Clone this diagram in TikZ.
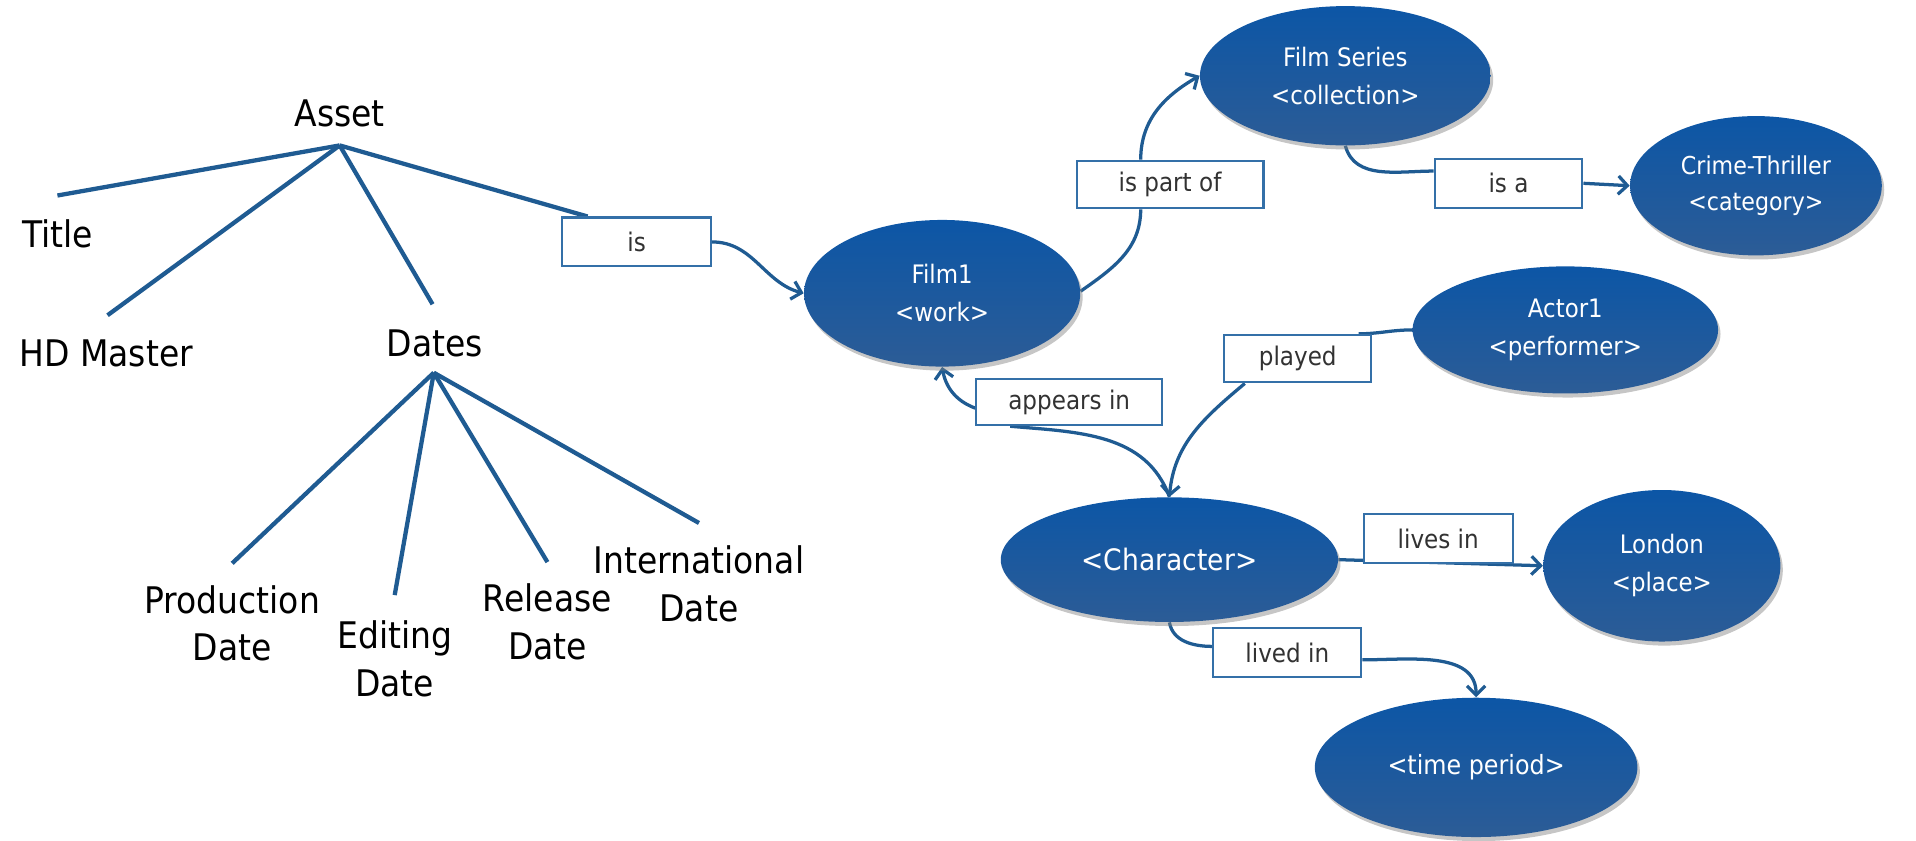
\documentclass[tikz,border=0pt]{standalone}
\usepackage{fontspec}
\setmainfont{DejaVu Sans}[FakeStretch=0.9]
\usetikzlibrary{arrows.meta,shapes.geometric,shadows}
\definecolor{linecol}{RGB}{31,91,146}
\definecolor{boxcol}{RGB}{52,112,168}
\definecolor{ellTop}{RGB}{12,86,166}
\definecolor{ellBot}{RGB}{44,92,150}
\definecolor{labtext}{RGB}{50,50,50}
\pgfdeclarelayer{bg}
\pgfsetlayers{bg,main}
\begin{document}
\begin{tikzpicture}[x=0.6pt,y=-0.6pt,
 treetext/.style={font=\fontsize{18}{23.4}\selectfont, align=center, inner sep=0pt, text=black},
 treeline/.style={draw=linecol, line width=2.1pt},
 ell/.style={ellipse, top color=ellTop, bottom color=ellBot, draw=none, text=white, align=center, inner sep=0pt, font=\fontsize{12.5}{18.5}\selectfont, drop shadow={shadow xshift=1.2pt,shadow yshift=-2pt,opacity=0.45}},
 lab/.style={rectangle, draw=boxcol, line width=1pt, fill=white, text=labtext, font=\fontsize{12.6}{15}\selectfont, inner sep=0pt},
 conn/.style={draw=linecol, line width=1.6pt},
 arr/.style={-{Straight Barb[length=4.5pt,width=9pt]}},
]
\useasboundingbox (0,0) rectangle (1568,688);

% ---------- left tree ----------
\node[treetext] (asset) at (278,93) {Asset};
\node[treetext] (title) at (47,191) {Title};
\node[treetext] (hdmaster) at (87,289) {HD Master};
\node[treetext] (dates) at (356,281) {Dates};
\node[treetext] (prod) at (190,510) {Production\\Date};
\node[treetext] (edit) at (323,539) {Editing\\Date};
\node[treetext] (rel) at (448,509) {Release\\Date};
\node[treetext] (intl) at (572,478) {International\\Date};

\coordinate (assetroot) at (278,119);
\coordinate (titleend) at (47,160);
\coordinate (hdend) at (88,258);
\coordinate (datesend) at (354,249);
\coordinate (datesroot) at (355,305);
\coordinate (prodend) at (190,461);
\coordinate (editend) at (323,487);
\coordinate (relend) at (448,460);
\coordinate (intlend) at (572,428);

\node[lab, minimum width=73.2pt, minimum height=24pt] (isbox) at (521,198) {is};

% ---------- right ellipses ----------
\node[ell, minimum width=135.6pt, minimum height=72pt] (film1) at (771,240) {Film1\\<work>};
\node[ell, minimum width=142.8pt, minimum height=68.4pt] (series) at (1101,62) {Film Series\\<collection>};
\node[ell, minimum width=123.6pt, minimum height=68.4pt, font=\fontsize{12.1}{18}\selectfont] (crime) at (1437,152) {Crime-Thriller\\<category>};
\node[ell, minimum width=150pt, minimum height=62.4pt] (actor) at (1281,270) {Actor1\\<performer>};
\node[ell, minimum width=165.6pt, minimum height=61.2pt, font=\fontsize{14.5}{18}\selectfont] (character) at (957,458) {<Character>};
\node[ell, minimum width=116.4pt, minimum height=74.4pt] (london) at (1360,463) {London\\<place>};
\node[ell, minimum width=158.4pt, minimum height=68.4pt, font=\fontsize{13}{18}\selectfont] (period) at (1208,628) {<time period>};

% ---------- label boxes ----------
\node[lab, minimum width=91.8pt, minimum height=23.4pt] (ispartof) at (957.5,151) {is part of};
\node[lab, minimum width=72.6pt, minimum height=24pt] (isa) at (1234.5,150) {is a};
\node[lab, minimum width=72pt, minimum height=23.4pt] (played) at (1062,293.5) {played};
\node[lab, minimum width=91.2pt, minimum height=22.8pt] (appears) at (875,329) {appears in};
\node[lab, minimum width=73.2pt, minimum height=24pt] (livesin) at (1177,441) {lives in};
\node[lab, minimum width=72.6pt, minimum height=24pt] (livedin) at (1053.5,534) {lived in};

\begin{pgfonlayer}{bg}
% tree lines
\draw[treeline] (assetroot) -- (titleend);
\draw[treeline] (assetroot) -- (hdend);
\draw[treeline] (assetroot) -- (datesend);
\draw[treeline] (assetroot) -- ([xshift=13pt]isbox.north west);
\draw[treeline] (datesroot) -- (prodend);
\draw[treeline] (datesroot) -- (editend);
\draw[treeline] (datesroot) -- (relend);
\draw[treeline] (datesroot) -- (intlend);

% connectors
\draw[conn,arr] (isbox.east) to[out=0,in=165] (film1.west);

\draw[conn] ([yshift=1pt]film1.east) to[out=35,in=-90] ([xshift=-14.4pt]ispartof.south);
\draw[conn,arr] ([xshift=-14.4pt]ispartof.north) to[out=90,in=210] (series.west);

\draw[conn] (series.south) to[out=-75,in=180] ([yshift=6pt]isa.west);
\draw[conn,arr] (isa.east) -- (crime.west);

\draw[conn] (actor.west) to[out=180,in=0] ([xshift=-6.6pt]played.north east);
\draw[conn,arr] ([xshift=-26pt]played.south) to[out=-140,in=85] (character.north);

\draw[conn] (character.north) to[out=110,in=-5] ([xshift=-29pt]appears.south);
\draw[conn,arr] ([yshift=-3pt]appears.west) to[out=160,in=-80] (film1.south);

\draw[conn,arr] (character.east) -- (london.west);

\draw[conn] (character.south) to[out=-80,in=180] ([yshift=3pt]livedin.west);
\draw[conn,arr] ([yshift=-3.6pt]livedin.east) to[out=0,in=90] (period.north);
\end{pgfonlayer}
\end{tikzpicture}
\end{document}
